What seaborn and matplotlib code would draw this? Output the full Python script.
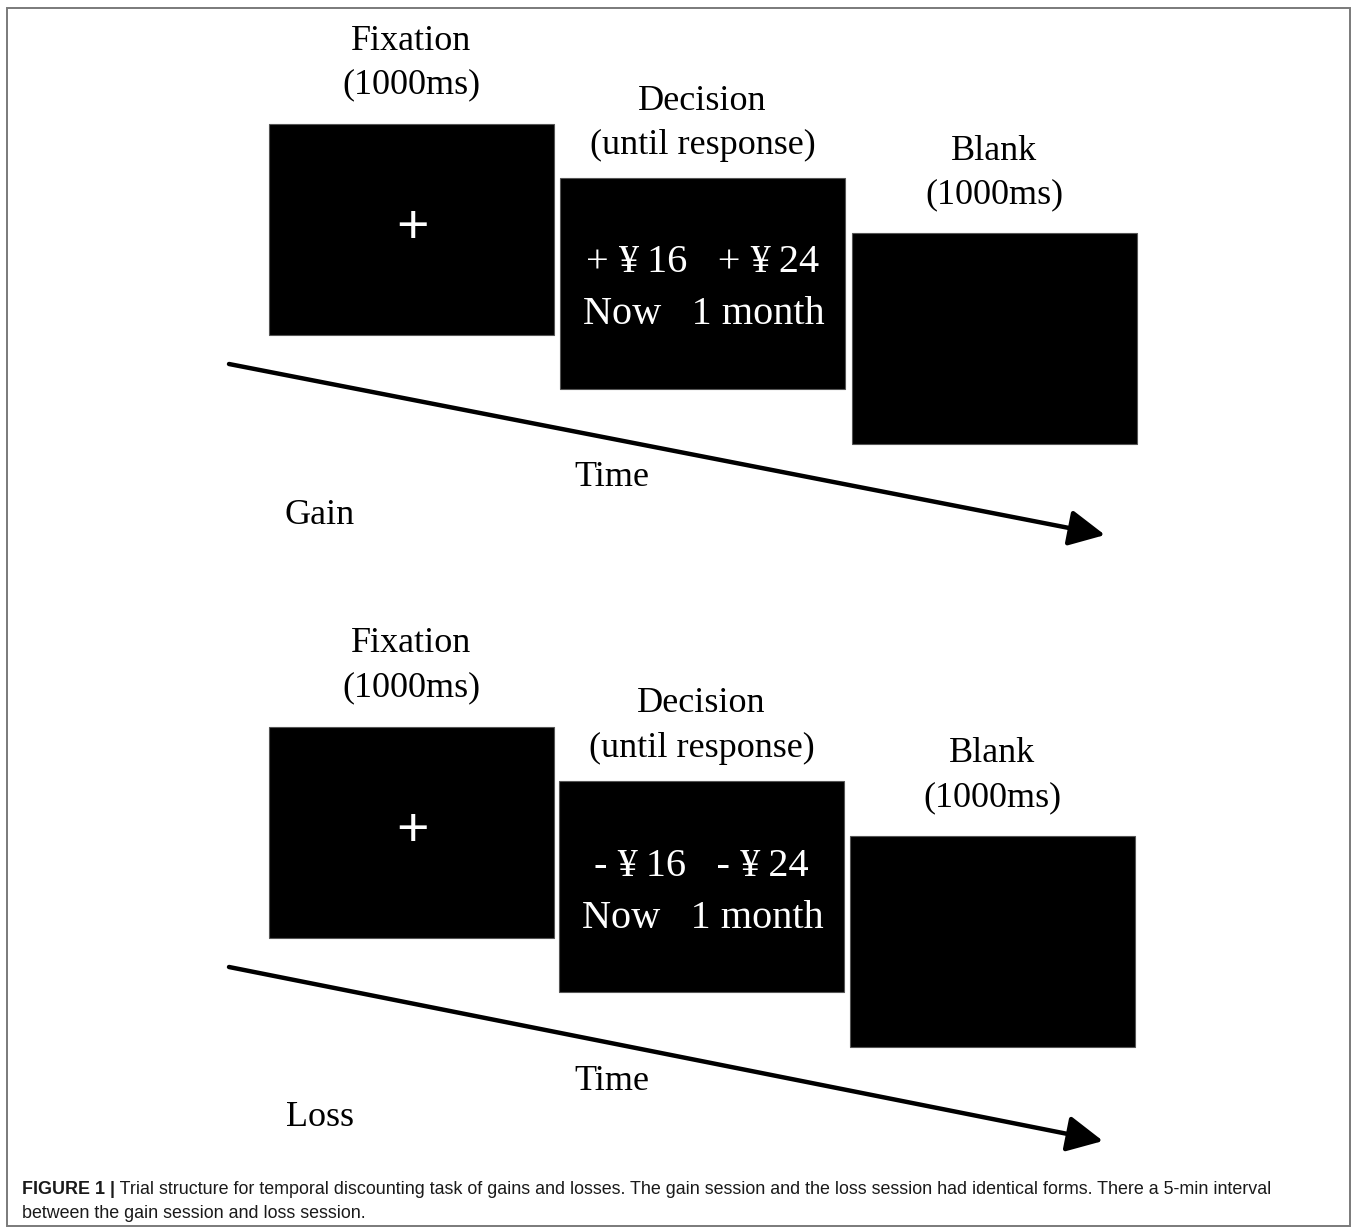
import matplotlib
matplotlib.use("Agg")
import matplotlib.pyplot as plt
from matplotlib.patches import Rectangle, FancyArrowPatch
import seaborn as sns

# screens of one trial, in order
screen_names = ["Fixation", "Decision", "Blank"]
screen_durations = ["(1000ms)", "(until response)", "(1000ms)"]

# the two sessions
sessions = ["Gain", "Loss"]
session_signs = ["+", "-"]

# options shown on the decision screen
amounts = [16, 24]
delays = ["Now", "1 month"]

caption_bold = "FIGURE 1 |"
caption_text = (" Trial structure for temporal discounting task of gains and losses. The gain session and the loss session had identical forms. There a 5-min interval\n"
                "between the gain session and loss session.")

sns.set_theme(style="white")
plt.rcParams['font.family'] = ['Liberation Serif', 'DejaVu Serif']
plt.rcParams['text.color'] = 'black'

W, H = 1358, 1232
fig = plt.figure(figsize=(W / 100, H / 100), dpi=100)
ax = fig.add_axes([0, 0, 1, 1])
ax.set_xlim(0, W)
ax.set_ylim(H, 0)
ax.axis('off')

# outer frame
ax.add_patch(Rectangle((7, 8), 1343, 1218, fill=False, edgecolor='#7a7a7a', lw=1.4))

box_w, box_h = 285, 211
panel_offset = [0, 603]
box_x = [269, 560, 852]
box_y = [124, 178, 233]
title_y = [41, 101, 151]
title_gap = 44
serif_size = 26

for p, session in enumerate(sessions):
    dy = panel_offset[p]
    dx = -p * 1.0
    for i, name in enumerate(screen_names):
        x0 = box_x[i] + dx * i
        y0 = box_y[i] + dy
        ax.add_patch(Rectangle((x0, y0), box_w, box_h, facecolor='black', edgecolor='#555555', lw=0.8))
        cx = x0 + box_w / 2
        ax.text(cx, title_y[i] + dy, name, ha='center', va='center', fontsize=serif_size)
        ax.text(cx, title_y[i] + dy + title_gap, screen_durations[i], ha='center', va='center', fontsize=serif_size)

    # fixation cross
    ax.text(box_x[0] + 1 + box_w / 2, 229 + dy, "+", ha='center', va='center', fontsize=40,
            color='white', family=['Liberation Sans'])

    # decision options
    sign = session_signs[p]
    dcx = box_x[1] + dx + box_w / 2
    opt = f"{sign} ¥\u2009{amounts[0]}   {sign} ¥\u2009{amounts[1]}"
    ax.text(dcx, 263 + dy, opt, ha='center', va='center', fontsize=29, color='white',
            family=['Liberation Serif', 'DejaVu Serif'])
    ax.text(dcx + 1, 315 + dy, f"{delays[0]}   {delays[1]}", ha='center', va='center', fontsize=29, color='white')

    # time arrow
    arr = FancyArrowPatch((229, 364 + dy), (1105 - 2 * p, 535 + dy + 3 * p),
                          arrowstyle="-|>,head_length=2.2,head_width=1.1",
                          mutation_scale=10, lw=3.2, color='black', shrinkA=0, shrinkB=0)
    ax.add_patch(arr)
    ax.text(612, 478 + dy, "Time", ha='center', va='center', fontsize=serif_size)
    ax.text(320, 515 + dy, session, ha='center', va='center', fontsize=serif_size)

# caption
cap_size = 12.9
t = ax.text(22, 1189, caption_bold, ha='left', va='center', fontsize=cap_size,
            family=['Liberation Sans'], fontweight='bold', color='#1a1a1a')
fig.canvas.draw()
bb = t.get_window_extent()
inv = ax.transData.inverted()
x_end = inv.transform((bb.x1, bb.y0))[0]
ax.text(x_end, 1189, caption_text.split("\n")[0], ha='left', va='center', fontsize=cap_size,
        family=['Liberation Sans'], color='#1a1a1a')
ax.text(22, 1214, caption_text.split("\n")[1], ha='left', va='center', fontsize=cap_size,
        family=['Liberation Sans'], color='#1a1a1a')

fig.savefig("out.png", dpi=100)
